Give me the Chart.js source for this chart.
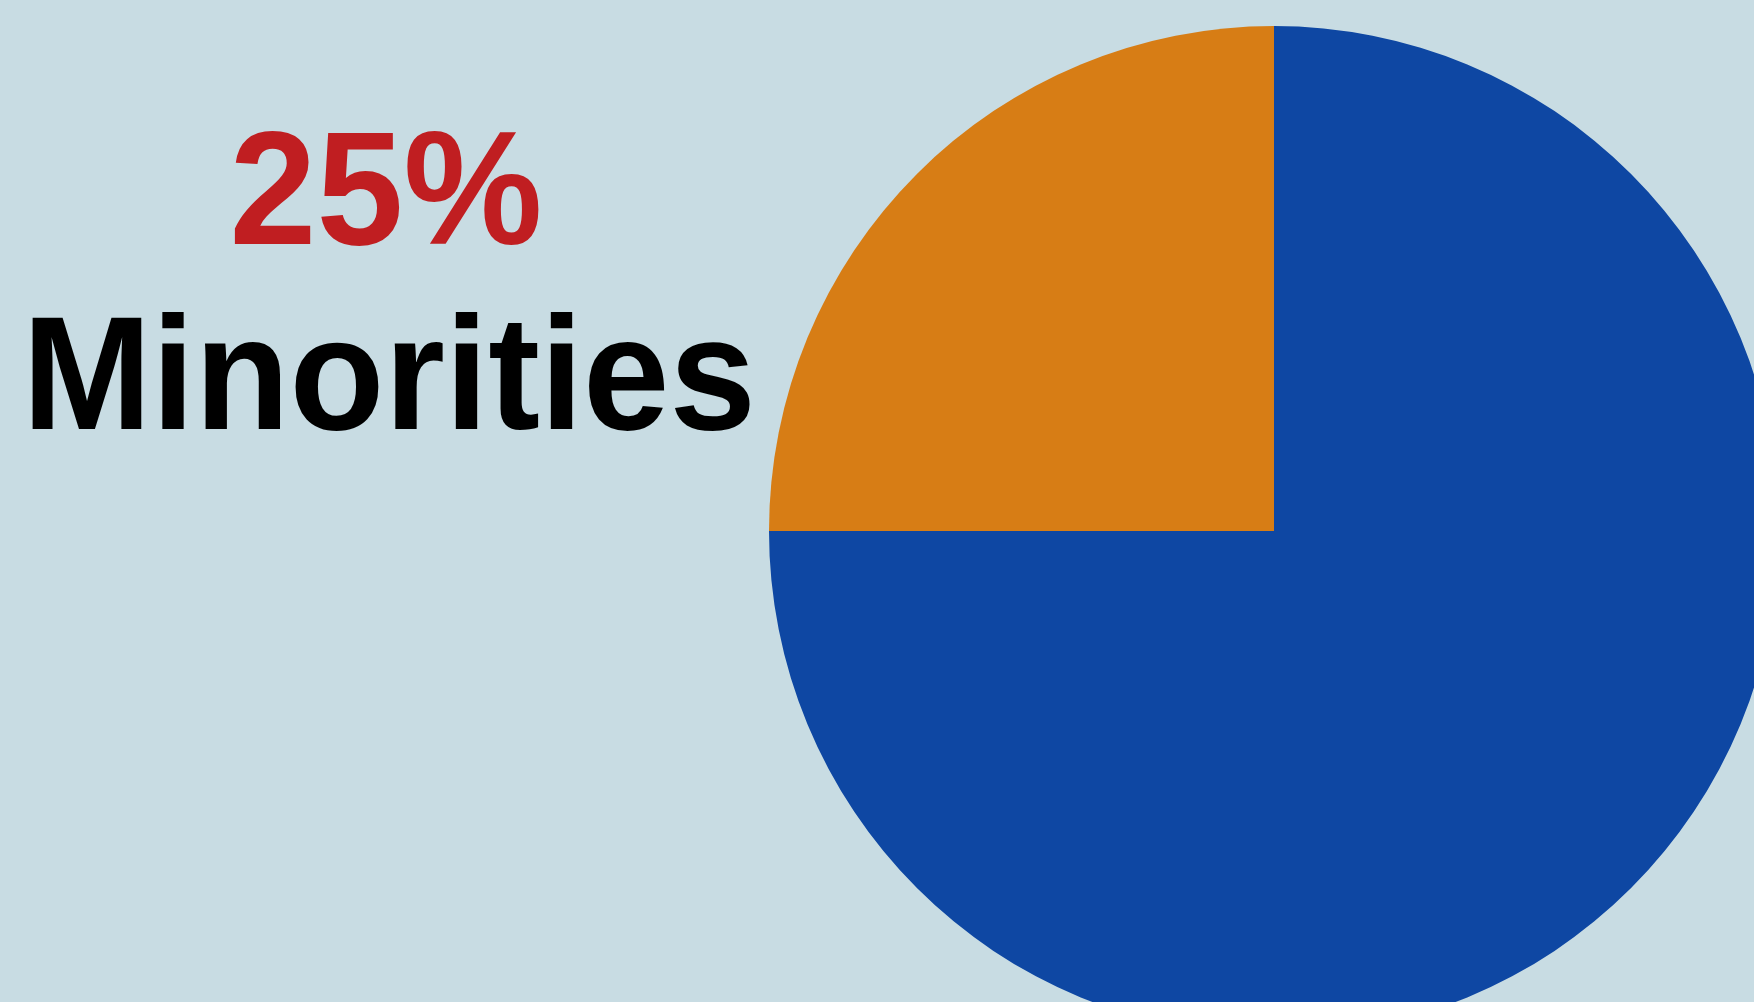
<!DOCTYPE html>
<html>
<head>
<meta charset="utf-8">
<script src="https://cdn.jsdelivr.net/npm/chart.js@4"></script>
<style>
  html, body { margin: 0; padding: 0; overflow: hidden; background: #c8dce3; }
  #shareChart { display: block; }
</style>
</head>
<body>
<canvas id="shareChart" width="1779" height="1036"></canvas>
<script>
var labels = ["Other", "Minorities"];
var values = [75, 25];
var colors = ["#0e47a3", "#d77d15"];

// draws a line of slightly condensed bold text centred on x
function condensedText(ctx, text, x, y, size, color) {
  ctx.save();
  ctx.font = "bold " + size + "px 'Liberation Sans', Arial, sans-serif";
  ctx.fillStyle = color;
  ctx.textAlign = "center";
  ctx.textBaseline = "alphabetic";
  ctx.translate(x, y);
  ctx.scale(0.965, 1);
  ctx.fillText(text, 0, 0);
  ctx.restore();
}

// big headline on the left: share figure in red, group name in black
var headlinePlugin = {
  id: "headline",
  afterDraw: function (chart) {
    var ctx = chart.ctx;
    condensedText(ctx, values[1] + "%", 386, 244, 162, "#c01e21");
    condensedText(ctx, labels[1], 389, 429, 161, "#000000");
  }
};

var canvasElement = document.getElementById("shareChart");

var config = {
  type: "pie",
  data: {
    labels: labels,
    datasets: [
      {
        data: values,
        backgroundColor: colors,
        borderWidth: 0,
      },
    ],
  },
  options: {
    responsive: false,
    animation: false,
    layout: {
      padding: { left: 769, top: 26, right: 0, bottom: 0 },
    },
    plugins: {
      legend: { display: false },
      tooltip: { enabled: false },
    },
  },
  plugins: [headlinePlugin],
};

var shareChart = new Chart(canvasElement, config);
</script>
</body>
</html>
